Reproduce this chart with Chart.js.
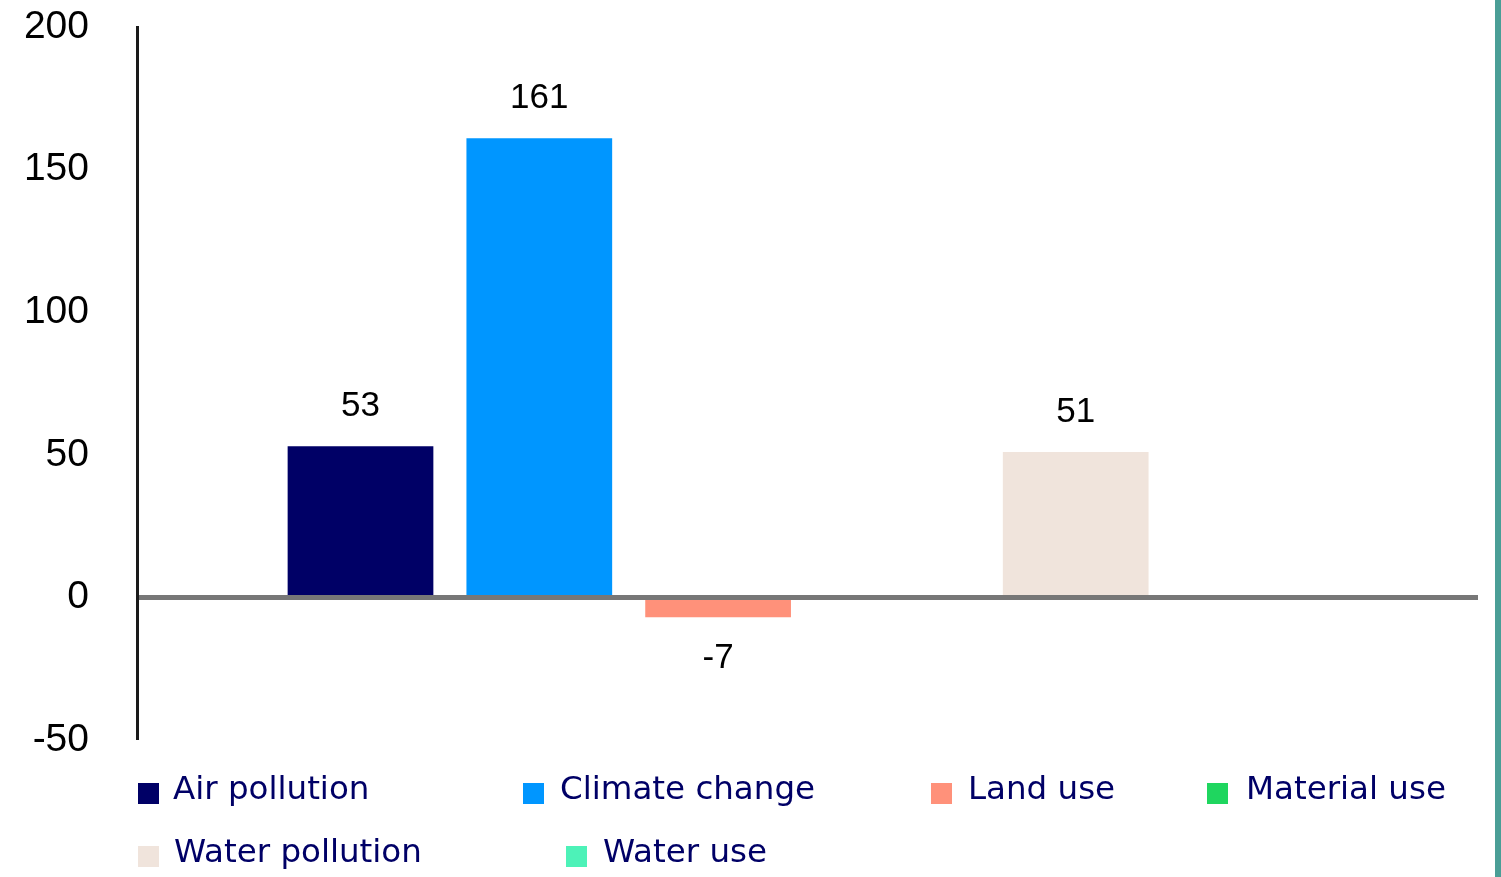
<!DOCTYPE html>
<html>
<head>
<meta charset="utf-8">
<script src="https://cdn.jsdelivr.net/npm/chart.js@4/dist/chart.umd.min.js"></script>
<style>
  html, body { margin: 0; padding: 0; background: #fff; }
  #wrap { position: relative; width: 1501px; height: 877px; overflow: hidden; }
  #c { position: absolute; left: 0; top: 0; }
  #edge { position: absolute; left: 1495px; top: 0; width: 6px; height: 877px; background: #4A9E96; }
  .lg { position: absolute; font-family: "DejaVu Sans", sans-serif; font-size: 32.5px; color: #000066; white-space: nowrap; line-height: 1; }
  .box { position: absolute; width: 21px; height: 21px; }
</style>
</head>
<body>
<div id="wrap">
  <canvas id="c" width="1501" height="877"></canvas>
  <div id="edge"></div>
</div>
<script>
// ---- data ----
const seriesNames = ["Air pollution", "Climate change", "Land use", "Material use", "Water pollution", "Water use"];
const seriesValues = [53, 161, -7, 0, 51, 0];
const seriesColors = ["#000066", "#0096FF", "#FF917A", "#1FD65F", "#F0E4DC", "#4DF2B8"];
const categories = [""];
const yTicks = [-50, 0, 50, 100, 150, 200];

// legend layout (box left x, text left x, row top y)
const legendPos = [
  { bx: 138, tx: 173, y: 783 },
  { bx: 523, tx: 560, y: 783 },
  { bx: 931, tx: 968, y: 783 },
  { bx: 1207, tx: 1246, y: 783 },
  { bx: 138, tx: 174, y: 846 },
  { bx: 566, tx: 603, y: 846 }
];

const datasets = seriesNames.map((n, i) => ({
  label: n,
  data: [seriesValues[i]],
  backgroundColor: seriesColors[i],
  borderWidth: 0,
  categoryPercentage: 0.8,
  barPercentage: 0.815
}));

const valueLabels = {
  id: 'valueLabels',
  afterDatasetsDraw(chart) {
    const ctx = chart.ctx;
    ctx.save();
    ctx.font = '35px "Liberation Sans", Arial, sans-serif';
    ctx.fillStyle = '#000';
    ctx.textAlign = 'center';
    ctx.textBaseline = 'middle';
    chart.data.datasets.forEach((ds, i) => {
      const v = ds.data[0];
      if (!v) return;
      const bar = chart.getDatasetMeta(i).data[0];
      const y = v > 0 ? bar.y - 40 : bar.y + 41;
      ctx.fillText(String(v), bar.x, y);
    });
    ctx.restore();
  }
};

new Chart(document.getElementById('c'), {
  type: 'bar',
  data: { labels: categories, datasets },
  options: {
    responsive: false,
    animation: false,
    devicePixelRatio: 1,
    layout: { padding: { left: 0, right: 23, top: 27, bottom: 137 } },
    plugins: { legend: { display: false }, tooltip: { enabled: false } },
    scales: {
      x: { display: false },
      y: {
        min: -50, max: 200,
        afterFit(scale) { scale.width = 137; scale.paddingTop = 0; scale.paddingBottom = 0; },
        afterBuildTicks(scale) { scale.ticks = yTicks.map(v => ({ value: v })); },
        border: { display: true, color: '#1a1a1a', width: 3 },
        grid: {
          drawTicks: false,
          color: (c) => (c.tick && c.tick.value === 0) ? '#777777' : 'rgba(0,0,0,0)',
          lineWidth: (c) => (c.tick && c.tick.value === 0) ? 5 : 0
        },
        ticks: {
          padding: 48,
          color: '#000',
          font: { family: '"Liberation Sans", Arial, sans-serif', size: 39 }
        }
      }
    }
  },
  plugins: [valueLabels]
});

// HTML legend built from the data arrays
const wrap = document.getElementById('wrap');
seriesNames.forEach((n, i) => {
  const p = legendPos[i];
  const b = document.createElement('div');
  b.className = 'box';
  b.style.left = p.bx + 'px'; b.style.top = p.y + 'px';
  b.style.background = seriesColors[i];
  wrap.appendChild(b);
  const t = document.createElement('div');
  t.className = 'lg';
  t.textContent = n;
  t.style.left = p.tx + 'px';
  t.style.top = (p.y - 11) + 'px';
  wrap.appendChild(t);
});
</script>
</body>
</html>
